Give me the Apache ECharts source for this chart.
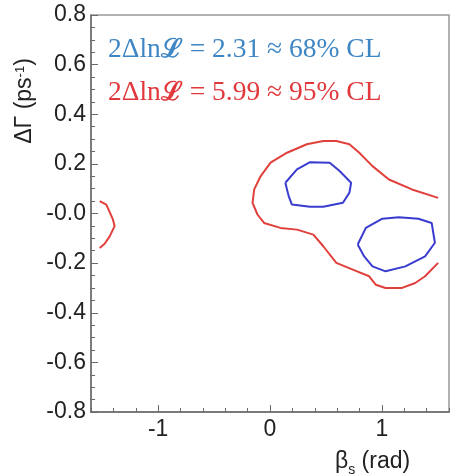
<!DOCTYPE html>
<html><head><meta charset="utf-8">
<script src="https://cdn.jsdelivr.net/npm/echarts@6/dist/echarts.min.js"></script>
<style>html,body{margin:0;padding:0;background:#fff}#c{width:452px;height:476px}</style>
</head><body><div id="c"></div>
<script>
// 95% CL contour (red), left fragment
const red95Left = [[-1.522,0.050],[-1.463,0.036],[-1.404,-0.024],[-1.389,-0.051],[-1.433,-0.092],[-1.478,-0.122],[-1.522,-0.139]];
// 95% CL contour (red), main region
const red95Main = [[1.503,0.063],[1.269,0.097],[1.063,0.137],[0.916,0.191],[0.798,0.245],[0.710,0.279],[0.593,0.292],[0.476,0.292],[0.329,0.279],[0.152,0.245],[0.005,0.205],[-0.083,0.151],[-0.141,0.097],[-0.156,0.043],[-0.112,-0.004],[-0.053,-0.038],[0.093,-0.058],[0.241,-0.065],[0.388,-0.085],[0.476,-0.132],[0.593,-0.199],[0.740,-0.226],[0.886,-0.253],[0.945,-0.287],[1.033,-0.300],[1.181,-0.300],[1.298,-0.280],[1.386,-0.253],[1.503,-0.199]];
// 68% CL contours (blue)
const blue68Upper = [[0.137,0.124],[0.241,0.178],[0.358,0.207],[0.534,0.205],[0.622,0.171],[0.725,0.124],[0.710,0.084],[0.652,0.043],[0.476,0.027],[0.358,0.027],[0.196,0.036],[0.167,0.070],[0.137,0.124]];
const blue68Lower = [[0.784,-0.125],[0.857,-0.058],[1.004,-0.021],[1.151,-0.015],[1.327,-0.021],[1.445,-0.038],[1.474,-0.118],[1.386,-0.173],[1.210,-0.213],[1.033,-0.233],[0.916,-0.213],[0.842,-0.173],[0.784,-0.125]];
const xMajorTicks = [-1, 0, 1];
const legendLines = ['2.31 ≈ 68% CL', '5.99 ≈ 95% CL'];

const RED = '#e0403c', BLUE = '#3a3ccf';
const AX = '#6a6a6a';
const chart = echarts.init(document.getElementById('c'));
function line(data, color) {
  return {type:'line', data:data, showSymbol:false, symbol:'none', smooth:false, xAxisIndex:0, yAxisIndex:0,
    lineStyle:{color:color, width:2}, animation:false};
}
chart.setOption({
  animation:false,
  grid:{left:91, top:15, right:-1, bottom:64, show:true, borderColor:'#999', borderWidth:1.5},
  xAxis:[{
    type:'value', min:-1.6, max:1.6, interval:0.2, position:'bottom',
    axisLine:{show:true, onZero:false, lineStyle:{color:AX, width:1.5}},
    axisTick:{show:true, inside:true, length:4, lineStyle:{color:AX, width:1}},
    splitLine:{show:false},
    axisLabel:{fontFamily:'Liberation Sans', fontSize:23, color:'#222', margin:6,
      formatter:function(v){return Math.abs(v-Math.round(v))<1e-6 ? String(Math.round(v)) : '';}}
  },{
    type:'value', min:-1.6, max:1.6, interval:0.2, position:'bottom',
    axisLine:{show:false, onZero:false}, axisLabel:{show:false}, splitLine:{show:false},
    axisTick:{show:true, inside:true, length:7, customValues:xMajorTicks, lineStyle:{color:AX, width:1}}
  }],
  yAxis:{
    type:'value', min:-0.8, max:0.8, interval:0.2,
    axisLine:{show:true, onZero:false, lineStyle:{color:AX, width:1.5}},
    axisTick:{show:true, inside:true, length:7, lineStyle:{color:AX, width:1}},
    minorTick:{show:true, splitNumber:4, length:4, lineStyle:{color:AX, width:1}},
    splitLine:{show:false},
    axisLabel:{fontFamily:'Liberation Sans', fontSize:23, color:'#222', margin:5,
      formatter:function(v){return Math.abs(v)<1e-9 ? '-0.0' : v.toFixed(1);}}
  },
  series:[line(red95Left, RED), line(red95Main, RED), line(blue68Upper, BLUE), line(blue68Lower, BLUE)],
  graphic:[
    {type:'text', x:25, y:101, rotation:Math.PI/2, style:{
      text:'{a|ΔΓ (ps}{s|-1}{a|)}', align:'center', verticalAlign:'middle',
      rich:{a:{fontFamily:'Liberation Sans', fontSize:23, fill:'#222'},
            s:{fontFamily:'Liberation Sans', fontSize:13, fill:'#222', verticalAlign:'top', padding:[0,0,10,0]}}}},
    {type:'text', x:335, y:462, style:{
      text:'{a|β}{s|s}{a| (rad)}', align:'left', verticalAlign:'middle',
      rich:{a:{fontFamily:'Liberation Sans', fontSize:23, fill:'#222'},
            s:{fontFamily:'Liberation Sans', fontSize:14, fill:'#222', padding:[16,0,0,0]}}}},
    {type:'text', x:108, y:50, style:{
      text:'2Δln{b|ℒ} = ' + legendLines[0], align:'left', verticalAlign:'middle',
      fontFamily:'Liberation Serif', fontSize:27.5, fill:'#3f86c4',
      rich:{b:{fontFamily:'DejaVu Serif', fontSize:26, fontWeight:'bold', fill:'#3f86c4'}}}},
    {type:'text', x:108, y:93, style:{
      text:'2Δln{b|ℒ} = ' + legendLines[1], align:'left', verticalAlign:'middle',
      fontFamily:'Liberation Serif', fontSize:27.5, fill:'#e0383c',
      rich:{b:{fontFamily:'DejaVu Serif', fontSize:26, fontWeight:'bold', fill:'#e0383c'}}}}
  ]
});
</script></body></html>
